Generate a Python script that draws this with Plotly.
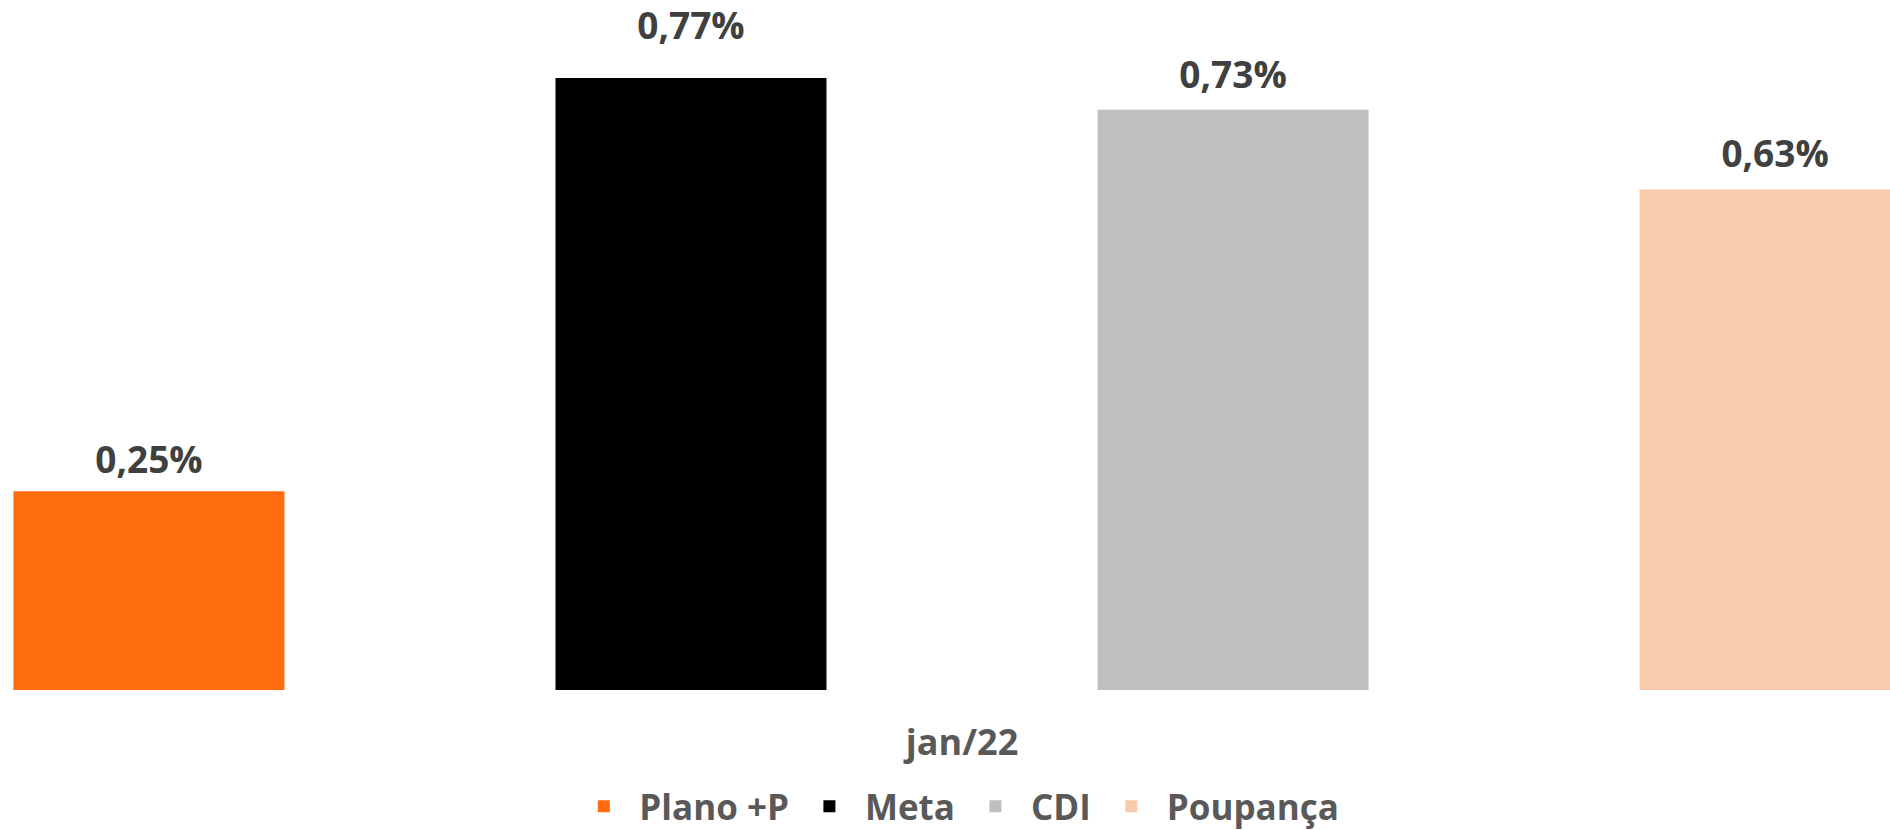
import plotly.graph_objects as go

categories = ["jan/22"]
series_names = ["Plano +P", "Meta", "CDI", "Poupança"]
series_values = [[0.25], [0.77], [0.73], [0.63]]
series_colors = ["#FF6D0F", "#000000", "#BFBFBF", "#F8CBAD"]
label_gaps = [13, 46, 19, 19]  # spacing (px) of each value label above its bar

fig = go.Figure()
for name, vals, col in zip(series_names, series_values, series_colors):
    fig.add_trace(go.Bar(
        x=categories, y=vals, name=name,
        marker=dict(color=col, line=dict(width=0)),
        hoverinfo="skip",
    ))
for name, vals, gap in zip(series_names, series_values, label_gaps):
    fig.add_trace(go.Scatter(
        x=categories, y=vals, name=name, mode="markers+text",
        marker=dict(size=gap, opacity=0),
        texttemplate="%{y:.2f}%", textposition="top center",
        textfont=dict(family="Open Sans", size=37, color="#404040", weight="bold"),
        cliponaxis=False, showlegend=False, hoverinfo="skip",
    ))

fig.update_layout(
    width=1890, height=830,
    margin=dict(l=0, r=0, t=0, b=140, autoexpand=False),
    paper_bgcolor="white", plot_bgcolor="white",
    barmode="group", bargap=0.0, bargroupgap=0.5,
    scattermode="group", scattergap=0.0,
    separators=",.",
    showlegend=True,
    legend=dict(orientation="h", x=0.506, xanchor="center", y=-0.169, yanchor="middle",
                itemwidth=61,
                font=dict(family="Open Sans", size=35, color="#595959", weight="bold"),
                bgcolor="rgba(0,0,0,0)"),
    xaxis=dict(range=[-0.4437, 0.428], showgrid=False, zeroline=False, showline=False,
               ticks="", ticklabelstandoff=28, automargin=False,
               tickfont=dict(family="Open Sans", size=36, color="#595959", weight="bold")),
    yaxis=dict(range=[0, 0.868], visible=False, showgrid=False, zeroline=False, automargin=False),
)

fig.write_html("out.html", config={"displayModeBar": False},
               post_script="document.body.style.margin='0';document.body.style.overflow='hidden';")
